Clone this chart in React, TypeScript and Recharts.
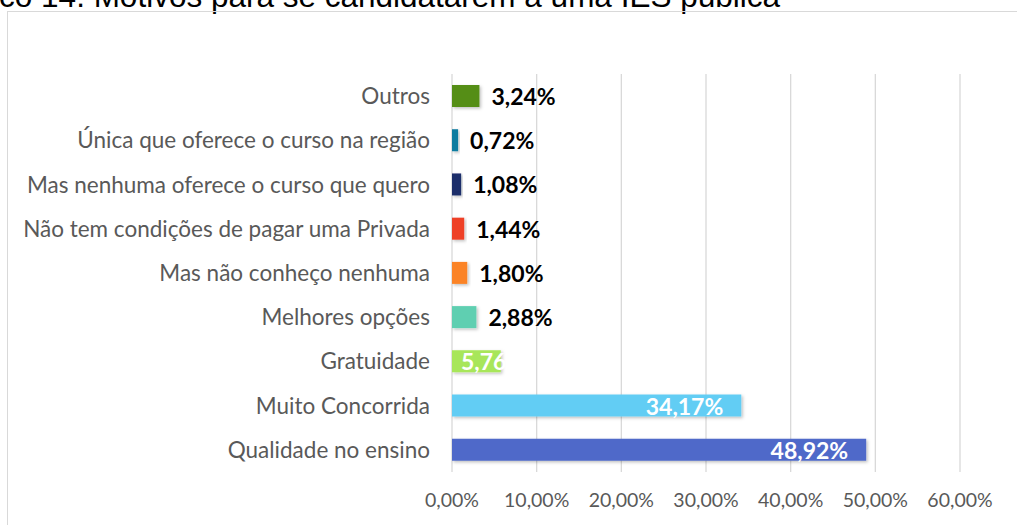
import React from 'react';
import { BarChart, Bar, XAxis, YAxis, CartesianGrid, Cell, LabelList } from 'recharts';

const categories = [
  'Outros',
  'Única que oferece o curso na região',
  'Mas nenhuma oferece o curso que quero',
  'Não tem condições de pagar uma Privada',
  'Mas não conheço nenhuma',
  'Melhores opções',
  'Gratuidade',
  'Muito Concorrida',
  'Qualidade no ensino',
];
const percentages = [3.24, 0.72, 1.08, 1.44, 1.8, 2.88, 5.76, 34.17, 48.92];
const barColors = ['#548E14', '#0E7BA0', '#1F2D6B', '#EE4027', '#FB8326', '#5ECFB1', '#A8E65A', '#62CDF4', '#4F69C9'];
// where Excel put each data label: after the bar or inside it
const labelPlaces = ['outside', 'outside', 'outside', 'outside', 'outside', 'outside', 'inside', 'inside', 'inside'];
const xTicks = [0, 10, 20, 30, 40, 50, 60];

const data = categories.map((name, i) => ({ name, value: percentages[i] }));

const pct = (v: number) => `${v.toFixed(2).replace('.', ',')}%`;

const FONT = 'Lato, "Open Sans", sans-serif';

function renderLabel(props: any) {
  const { x, y, width, height, value, index } = props;
  const cy = y + height / 2;
  const text = pct(Number(value));
  if (labelPlaces[index] === 'inside') {
    // right-aligned inside the bar, unless the bar is too short for it
    const approx = text.length * 11.5;
    const endX = x + width - 18;
    const fits = endX - approx >= x + 9;
    return (
      <text
        x={fits ? endX : x + 9}
        y={cy}
        textAnchor={fits ? 'end' : 'start'}
        dominantBaseline="central"
        fill="#FFFFFF"
        fontFamily={FONT}
        fontWeight={700}
        fontSize={23}
      >
        {text}
      </text>
    );
  }
  return (
    <text
      x={x + width + 12}
      y={cy}
      textAnchor="start"
      dominantBaseline="central"
      fill="#000000"
      fontFamily={FONT}
      fontWeight={700}
      fontSize={23}
    >
      {text}
    </text>
  );
}

export default function App() {
  return (
    <div style={{ position: 'absolute', left: 0, top: 0, width: 1017, height: 525, overflow: 'hidden', background: '#fff' }}>
      <svg width={1017} height={20} style={{ position: 'absolute', left: 0, top: 0 }}>
        <text x={780} y={7} textAnchor="end" fontFamily='"Liberation Sans", Arial, sans-serif' fontSize={31.5} fill="#000">
          Gráfico 14. Motivos para se candidatarem a uma IES pública
        </text>
      </svg>
      <div
        style={{
          position: 'absolute',
          left: 7,
          top: 11,
          width: 1030,
          height: 540,
          border: '1px solid #D9D9D9',
          boxSizing: 'border-box',
        }}
      />
      <div style={{ position: 'absolute', left: 0, top: 0 }}>
        <BarChart
          width={1017}
          height={525}
          data={data}
          layout="vertical"
          margin={{ top: 74, right: 57, bottom: 23, left: 0 }}
        >
          <defs>
            <filter id="barShadow" x="-10%" y="-30%" width="130%" height="180%">
              <feDropShadow dx={1.5} dy={1.5} stdDeviation={1.5} floodColor="#000" floodOpacity={0.25} />
            </filter>
          </defs>
          <CartesianGrid horizontal={false} vertical stroke="#D9D9D9" strokeWidth={1.3} />
          <XAxis
            type="number"
            domain={[0, 60]}
            ticks={xTicks}
            tickFormatter={pct}
            axisLine={false}
            tickLine={false}
            tickMargin={15}
            height={30}
            tick={{ fill: '#595959', fontSize: 19.5, fontFamily: FONT }}
            interval={0}
          />
          <YAxis
            type="category"
            dataKey="name"
            width={452}
            axisLine={false}
            tickLine={false}
            tickMargin={16}
            tick={{ fill: '#595959', fontSize: 22.5, fontFamily: FONT }}
            interval={0}
          />
          <Bar dataKey="value" barSize={22} isAnimationActive={false} filter="url(#barShadow)">
            {data.map((d, i) => (
              <Cell key={d.name} fill={barColors[i]} />
            ))}
            <LabelList dataKey="value" content={renderLabel} />
          </Bar>
        </BarChart>
      </div>
    </div>
  );
}
